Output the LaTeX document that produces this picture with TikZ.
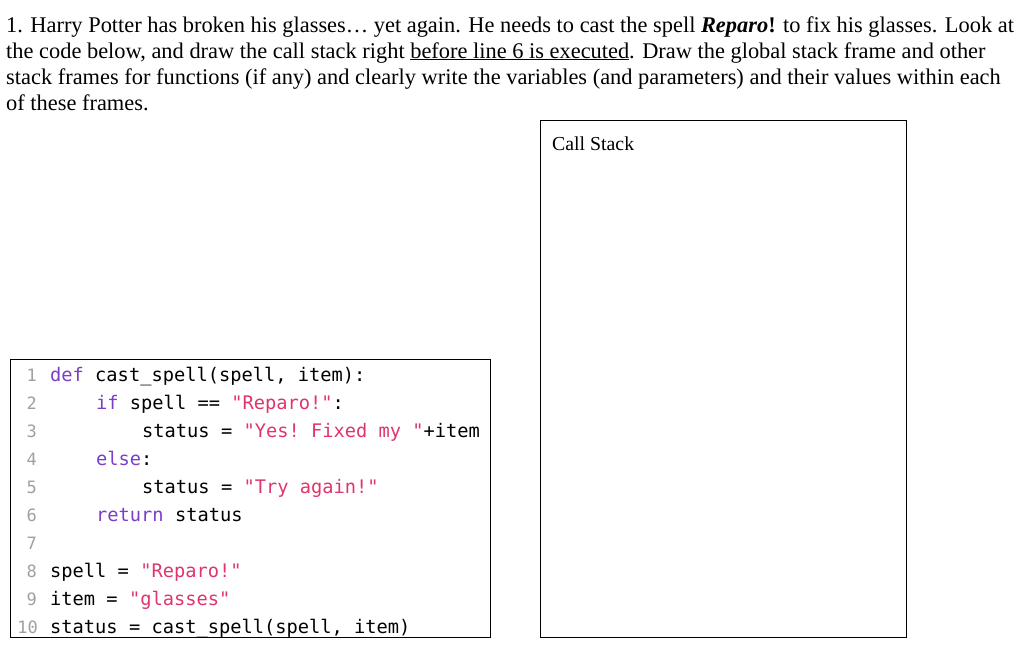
\documentclass[tikz,border=0pt]{standalone}
\usepackage{fontspec}
\setmainfont{Liberation Serif}
\setmonofont{DejaVu Sans Mono}
\usepackage{xcolor}
\definecolor{kw}{HTML}{7A3EC8}
\definecolor{str}{HTML}{E0356A}
\definecolor{ln}{HTML}{A0A0A0}
\begin{document}
\begin{tikzpicture}[x=1pt,y=-1pt,
  txt/.style={anchor=base west,inner sep=0pt,font=\fontsize{22.4}{26}\selectfont},
  cd/.style={anchor=base west,inner sep=0pt,font=\ttfamily\fontsize{18.7}{22}\selectfont},
  num/.style={anchor=base east,inner sep=0pt,text=ln,font=\ttfamily\fontsize{17}{20}\selectfont},
  boxs/.style={draw=black,line width=1pt}]
\useasboundingbox (0,0) rectangle (1024,665);
\node[txt] (t1) at (6,32) {1. Harry Potter has broken his glasses\ldots\ yet again. He needs to cast the spell \textbf{\textit{Reparo}!} to fix his glasses. Look at};
\node[txt] (t2) at (6,58) {the code below, and draw the call stack right \underline{before line 6 is executed}. Draw the global stack frame and other};
\node[txt] (t3) at (6,84) {stack frames for functions (if any) and clearly write the variables (and parameters) and their values within each};
\node[txt] (t4) at (6,110) {of these frames.};
\draw[boxs] (540,120) rectangle (906,637);
\node[anchor=base west,inner sep=0pt,font=\fontsize{19.8}{24}\selectfont] (cs) at (552,150) {Call Stack};
\draw[boxs] (10,359) rectangle (490,637);
\foreach \i in {1,...,9} {\node[num] (n\i) at (37,{381+28*(\i-1)}) {\i};}
\node[num] (n10) at (38,633) {10};
\node[cd] (c1) at (50,381) {\textcolor{kw}{def} cast\_spell(spell, item):};
\node[cd] (c2) at (96,409) {\textcolor{kw}{if} spell == \textcolor{str}{"Reparo!"}:};
\node[cd] (c3) at (142,437) {status = \textcolor{str}{"Yes! Fixed my "}+item};
\node[cd] (c4) at (96,465) {\textcolor{kw}{else}:};
\node[cd] (c5) at (142,493) {status = \textcolor{str}{"Try again!"}};
\node[cd] (c6) at (96,521) {\textcolor{kw}{return} status};
\node[cd] (c8) at (50,577) {spell = \textcolor{str}{"Reparo!"}};
\node[cd] (c9) at (50,605) {item = \textcolor{str}{"glasses"}};
\node[cd] (c10) at (50,633) {status = cast\_spell(spell, item)};
\end{tikzpicture}
\end{document}
